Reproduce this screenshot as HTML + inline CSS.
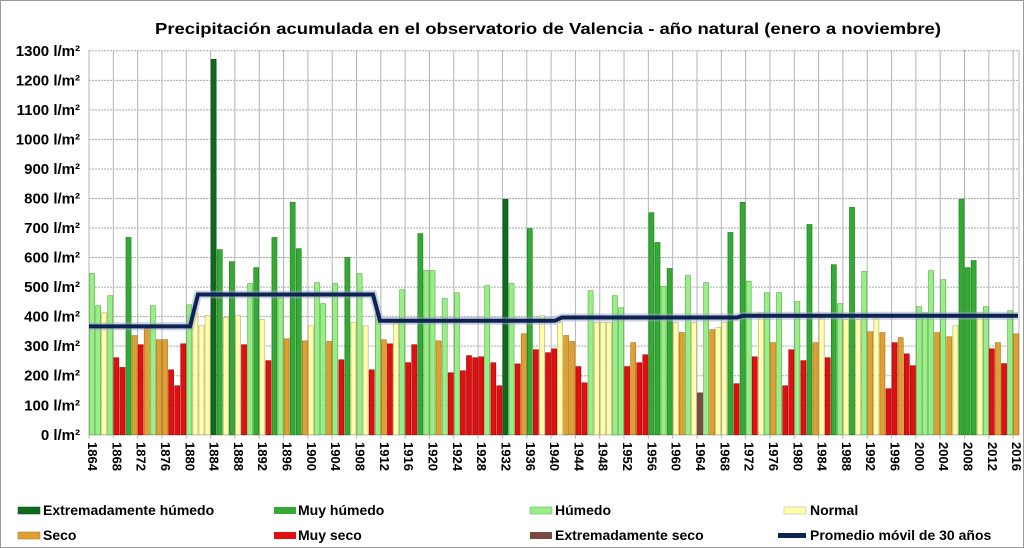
<!DOCTYPE html>
<html><head><meta charset="utf-8"><style>
html,body{margin:0;padding:0;background:#fff;}
svg{display:block;font-family:"Liberation Sans",sans-serif;font-weight:bold;}
</style></head><body>
<svg id="c" width="1024" height="548" viewBox="0 0 1024 548" xmlns="http://www.w3.org/2000/svg">
<rect x="0.5" y="0.5" width="1023" height="547" fill="#fff" stroke="#999"/>
<text x="548" y="34" text-anchor="middle" font-size="16" textLength="786" lengthAdjust="spacingAndGlyphs">Precipitación acumulada en el observatorio de Valencia - año  natural (enero a noviembre)</text>
<g id="grid"></g><g id="bars"></g><g id="ylab"></g><g id="xlab"></g>
<polyline points="89,326.4 190,326.4 198,294.5 373,294.5 380,320.8 555,320.8 562,317.5 737,317.5 743,315.8 1018,315.8" fill="none" stroke="#9aa6c0" stroke-width="8" opacity="0.5"/>
<polyline points="89,326.4 190,326.4 198,294.5 373,294.5 380,320.8 555,320.8 562,317.5 737,317.5 743,315.8 1018,315.8" fill="none" stroke="#0d2353" stroke-width="4"/>
<g font-size="14">
<rect x="18" y="507" width="22" height="7" fill="#0e6b1e" stroke="#0a4a14" stroke-width="0.5"/><text x="43" y="515">Extremadamente húmedo</text>
<rect x="274" y="507" width="22" height="7" fill="#33aa33"/><text x="298" y="515">Muy húmedo</text>
<rect x="530" y="507" width="22" height="7" fill="#99ee88" stroke="#66aa55" stroke-width="0.5"/><text x="555" y="515">Húmedo</text>
<rect x="784" y="507" width="22" height="7" fill="#ffffaa" stroke="#aaa" stroke-width="0.5"/><text x="810" y="515">Normal</text>
<rect x="18" y="532" width="22" height="7" fill="#e0a030" stroke="#a07020" stroke-width="0.5"/><text x="43" y="540">Seco</text>
<rect x="274" y="532" width="22" height="7" fill="#e01010"/><text x="298" y="540">Muy seco</text>
<rect x="530" y="532" width="22" height="7" fill="#7a4a40"/><text x="555" y="540">Extremadamente seco</text>
<line x1="778" y1="535.5" x2="806" y2="535.5" stroke="#0d2353" stroke-width="5"/><text x="810" y="540">Promedio móvil de 30 años</text>
</g>
</svg>
<script>
var d="H546 H437 N413 H471 D261 D228 M668 S336 D305 S359 H437 S322 S322 D220 D166 D308 H440 N410 N369 N403 E1271 M627 N397 M586 N403 D305 H512 M566 N390 D251 M668 H465 S325 M787 M630 S318 N369 H515 H444 "+
"S316 H512 D254 M600 N380 H546 N369 D220 H410 S322 D308 N380 H491 D244 D305 M681 H556 H556 S318 H461 D210 H481 D217 D268 D261 D264 H505 D244 D166 E797 H512 D240 S342 M698 D288 N403 D278 D291 "+
"N380 S336 S316 D231 D176 H488 N380 N380 N380 H471 H430 D231 S312 D244 D271 M752 M651 H502 M563 N380 S346 H539 N380 X142 H515 S356 N363 N380 M685 D173 M787 H520 D264 N413 H481 S312 H481 D166 D288 "+
"H451 D251 M712 S312 N393 D261 M576 H444 N390 M770 N390 H553 S349 N393 S346 D156 D312 S329 D274 D234 H434 H413 H556 S346 H525 S332 N369 M797 M566 M590 N413 H434 D291 S312 D241 H420 S342";
var col={E:["#0e6b1e","#0a4a14"],M:["#33aa33","#1f7a1f"],H:["#99ee88","#55aa44"],N:["#ffffaa","#b0a878"],S:["#e0a030","#a87020"],D:["#e01010","#a00808"],X:["#7a4a40","#553028"]};
var NS="http://www.w3.org/2000/svg";
function el(p,t,a,txt){var e=document.createElementNS(NS,t);for(var k in a)e.setAttribute(k,a[k]);if(txt)e.textContent=txt;p.appendChild(e);return e;}
var g=document.getElementById("grid"),b=document.getElementById("bars"),yl=document.getElementById("ylab"),xl=document.getElementById("xlab");
var y0=434.8,s=0.2954,x0=89,w=6.08;
for(var v=0;v<=1300;v+=100){var y=y0-v*s;
 el(g,"line",{x1:x0,x2:1019,y1:y,y2:y,stroke:"#aaa","stroke-width":1,"stroke-dasharray":v==0?"":"2,1"});
 el(yl,"text",{x:80,y:y+5,"text-anchor":"end","font-size":"15"},v+" l/m²");}
for(var k=0;k<=38;k++){var x=x0+k*4*w;
 el(g,"line",{x1:x,x2:x,y1:50,y2:y0+4,stroke:"#b5b5b5","stroke-width":1});
 el(xl,"text",{x:0,y:0,"font-size":"13",transform:"translate("+(x-1)+",442) rotate(90)"},String(1864+4*k));}
el(g,"line",{x1:1019,x2:1019,y1:50,y2:y0,stroke:"#b5b5b5"});
d.split(" ").forEach(function(t,i){var c=t[0],v=+t.slice(1),h=v*s,x=x0+i*w+0.5;
 el(b,"rect",{x:x,y:y0-h,width:w-1,height:h,fill:col[c][0],stroke:col[c][1],"stroke-width":0.6});});
</script>
</body></html>
